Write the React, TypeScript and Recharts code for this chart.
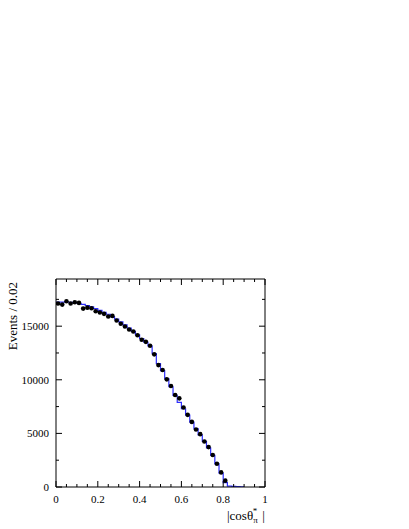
import { ComposedChart, Line, Scatter, XAxis, YAxis } from 'recharts'

const BIN_WIDTH = 0.02

// measured events per bin (bin centres 0.01, 0.03, ...)
const dataEvents = [
  17110, 17010, 17330, 17110, 17230, 17170, 16640, 16730, 16670, 16390,
  16270, 16150, 15900, 15960, 15530, 15220, 14970, 14690, 14500, 14160,
  13730, 13540, 13170, 12370, 11370, 10910, 10040, 9420, 8580, 8270,
  7410, 6730, 6070, 5360, 4930, 4250, 3720, 2980, 2170, 1360,
  590,
]

// fitted histogram, one value per bin starting at 0
const modelEvents = [
  17250, 17250, 17250, 17230, 17200, 17140, 17040, 16930, 16800, 16640,
  16480, 16300, 16110, 15900, 15660, 15400, 15120, 14830, 14520, 14200,
  13850, 13500, 13150, 12450, 11500, 10850, 10100, 9350, 8550, 7900,
  7300, 6700, 6050, 5450, 4850, 4250, 3650, 2950, 2150, 1300,
  400, 80, 50, 30, 10,
]

const xTicks = [0, 0.05, 0.1, 0.15, 0.2, 0.25, 0.3, 0.35, 0.4, 0.45, 0.5, 0.55, 0.6, 0.65, 0.7, 0.75, 0.8, 0.85, 0.9, 0.95, 1]
const xLabels = [0, 0.2, 0.4, 0.6, 0.8, 1]
const yTicks = [0, 2500, 5000, 7500, 10000, 12500, 15000, 17500]
const yLabels = [0, 5000, 10000, 15000]

const points = dataEvents.map((v, i) => ({ x: (i + 0.5) * BIN_WIDTH, events: v }))
const steps = [
  ...modelEvents.map((v, i) => ({ x: i * BIN_WIDTH, model: v })),
  { x: modelEvents.length * BIN_WIDTH, model: modelEvents[modelEvents.length - 1] },
]

const FONT = '"Liberation Serif", "Times New Roman", serif'
const isX = (v: number) => xLabels.some((l) => Math.abs(l - v) < 1e-9)
const isY = (v: number) => yLabels.includes(v)

function BottomTick({ x, y, payload }: any) {
  const major = isX(payload.value)
  return (
    <g>
      <line x1={x} x2={x} y1={y} y2={y - (major ? 6 : 3)} stroke="#000" />
      {major && (
        <text x={x} y={y + 16} textAnchor="middle" fontSize={11} fontFamily={FONT} fill="#000">
          {String(payload.value)}
        </text>
      )}
    </g>
  )
}

function TopTick({ x, y, payload }: any) {
  const major = isX(payload.value)
  return <line x1={x} x2={x} y1={y} y2={y + (major ? 6 : 3)} stroke="#000" />
}

function LeftTick({ x, y, payload }: any) {
  const major = isY(payload.value)
  return (
    <g>
      <line x1={x} x2={x + (major ? 6 : 3)} y1={y} y2={y} stroke="#000" />
      {major && (
        <text x={x - 7} y={y} dy="0.35em" textAnchor="end" fontSize={11} fontFamily={FONT} fill="#000">
          {String(payload.value)}
        </text>
      )}
    </g>
  )
}

function RightTick({ x, y, payload }: any) {
  const major = isY(payload.value)
  return <line x1={x} x2={x - (major ? 6 : 3)} y1={y} y2={y} stroke="#000" />
}

function Dot({ cx, cy }: any) {
  return <circle cx={cx} cy={cy} r={2.3} fill="#000" />
}

export default function App() {
  return (
    <div style={{ position: 'absolute', left: 0, top: 0, background: '#fff' }}>
      <ComposedChart
        width={409}
        height={529}
        margin={{ top: 278, right: 143, bottom: 41, left: 55 }}
      >
        <XAxis
          xAxisId="b"
          dataKey="x"
          type="number"
          domain={[0, 1]}
          allowDataOverflow
          ticks={xTicks}
          interval={0}
          height={1}
          tickSize={0}
          tickMargin={0}
          tickLine={false}
          axisLine={{ stroke: '#000' }}
          tick={<BottomTick />}
          label={{
            content: () => (
              <text x={227} y={520} fontSize={13} fontFamily={FONT} fill="#000">
                |cosθ
                <tspan fontSize={9} dy={3}>π</tspan>
                <tspan fontSize={9} dx={-5} dy={-9}>*</tspan>
                <tspan dx={5} dy={6}>|</tspan>
              </text>
            ),
          }}
        />
        <XAxis
          xAxisId="t"
          orientation="top"
          dataKey="x"
          type="number"
          domain={[0, 1]}
          allowDataOverflow
          ticks={xTicks}
          interval={0}
          height={1}
          tickSize={0}
          tickMargin={0}
          tickLine={false}
          axisLine={{ stroke: '#000' }}
          tick={<TopTick />}
        />
        <YAxis
          yAxisId="l"
          type="number"
          domain={[0, 19400]}
          allowDataOverflow
          ticks={yTicks}
          interval={0}
          width={1}
          tickSize={0}
          tickMargin={0}
          tickLine={false}
          axisLine={{ stroke: '#000' }}
          tick={<LeftTick />}
          label={{
            content: () => (
              <text
                transform="translate(17,282) rotate(-90)"
                textAnchor="end"
                fontSize={13}
                fontFamily={FONT}
                fill="#000"
              >
                Events / 0.02
              </text>
            ),
          }}
        />
        <YAxis
          yAxisId="r"
          orientation="right"
          type="number"
          domain={[0, 19400]}
          allowDataOverflow
          ticks={yTicks}
          interval={0}
          width={1}
          tickSize={0}
          tickMargin={0}
          tickLine={false}
          axisLine={{ stroke: '#000' }}
          tick={<RightTick />}
        />
        <Line
          xAxisId="b"
          yAxisId="l"
          data={steps}
          dataKey="model"
          type="stepAfter"
          stroke="#2f2fff"
          strokeWidth={1.2}
          dot={false}
          activeDot={false}
          isAnimationActive={false}
        />
        <Scatter
          xAxisId="b"
          yAxisId="l"
          data={points}
          dataKey="events"
          shape={<Dot />}
          isAnimationActive={false}
        />
      </ComposedChart>
    </div>
  )
}
